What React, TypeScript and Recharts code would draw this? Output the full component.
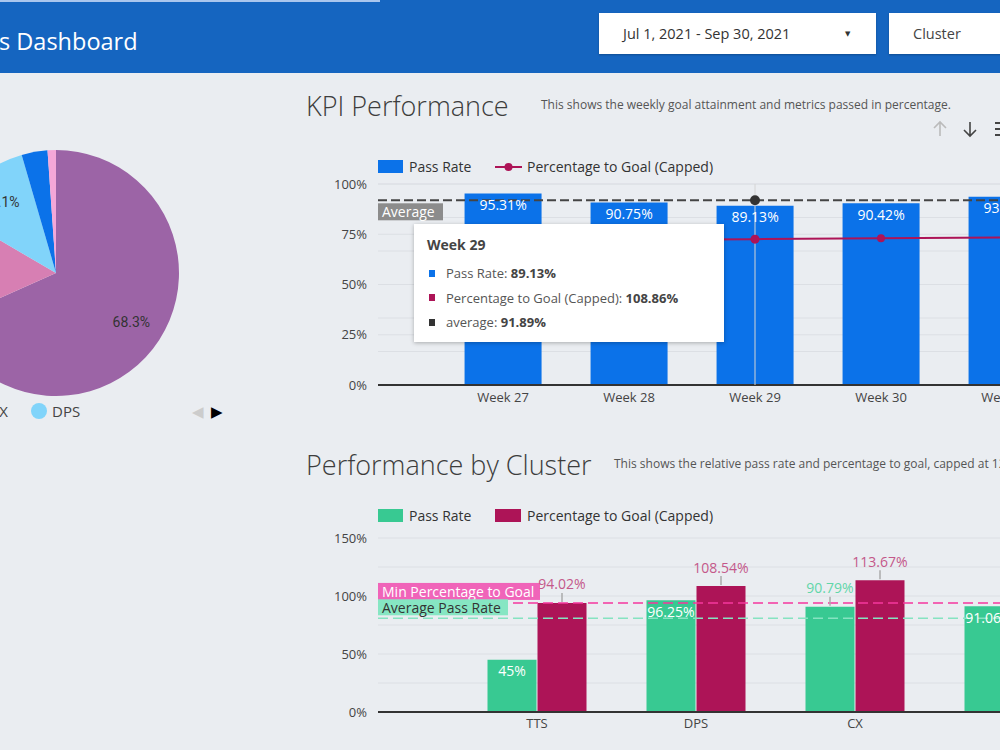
import React from "react";
import {
  ComposedChart,
  BarChart,
  Bar,
  Line,
  XAxis,
  YAxis,
  CartesianGrid,
  Tooltip,
  ReferenceLine,
  LabelList,
  PieChart,
  Pie,
  Cell,
} from "recharts";

const FONT = '"Open Sans", "DejaVu Sans", sans-serif';
const BLUE = "#0b72e9";
const CRIMSON = "#ad1457";
const GREEN = "#38c992";

// pie (share of volume per cluster)
const pieNames = ["TTS", "CX", "DPS", "CS", "QA"];
const pieShares = [68.3, 15.1, 12.1, 3.4, 1.1];
const pieColors = ["#9c64a6", "#d77fb3", "#81d4fa", BLUE, "#f4a7d8"];

// KPI Performance
const weeks = ["Week 27", "Week 28", "Week 29", "Week 30", "Week 31"];
const weeklyPassRate = [95.31, 90.75, 89.13, 90.42, 93.68];
const weeklyGoalPct = [108.2, 108.4, 108.86, 109.5, 110.2];
const weeklyAverage = 91.89;
const kpiLeftTicks = [0, 25, 50, 75, 100];
const kpiRightTicks = [0, 25, 50, 75, 100, 125, 150];

// Performance by Cluster
const clusters = ["TTS", "DPS", "CX", "CSM"];
const clusterPassRate = [45, 96.25, 90.79, 91.06];
const clusterGoalPct = [94.02, 108.54, 113.67, 104.5];
const clusterTicks = [0, 50, 100, 150];
const clusterGridValues = [0, 25, 50, 75, 100, 125, 150];
const passLabelOutside = ["CX"];

const pieData = pieNames.map((name, i) => ({ name, value: pieShares[i] }));
const kpiData = weeks.map((week, i) => ({
  week,
  pass: weeklyPassRate[i],
  goal: weeklyGoalPct[i],
  average: weeklyAverage,
}));
const clusterData = clusters.map((cluster, i) => ({
  cluster,
  pass: clusterPassRate[i],
  goal: clusterGoalPct[i],
}));
const avgPassRate = clusterPassRate.reduce((a, b) => a + b, 0) / clusterPassRate.length;
const minGoalPct = Math.min(...clusterGoalPct);

const RAD = Math.PI / 180;
const renderPieLabel = (p: any) => {
  if (p.value < 10) return null;
  const r = p.outerRadius * 0.73;
  const x = p.cx + r * Math.cos(-p.midAngle * RAD);
  const y = p.cy + r * Math.sin(-p.midAngle * RAD);
  return (
    <text x={x} y={y} textAnchor="middle" dominantBaseline="central" fill="#333" fontSize={14} fontFamily="Roboto, sans-serif">
      {p.value}%
    </text>
  );
};

const whiteTopLabel = (p: any) => (
  <text x={p.x + p.width / 2} y={p.y + 11} textAnchor="middle" dominantBaseline="central" fill="#fff" fontSize={14}>
    {p.value}%
  </text>
);

const outsideLabel = (color: string) => (p: any) => (
  <g>
    <line x1={p.x + p.width / 2} x2={p.x + p.width / 2} y1={p.y - 1} y2={p.y - 10} stroke="#aaa" strokeWidth={1.5} />
    <text x={p.x + p.width / 2} y={p.y - 19} textAnchor="middle" dominantBaseline="central" fill={color} fontSize={14}>
      {p.value}%
    </text>
  </g>
);

const passLabel = (p: any) => {
  if (passLabelOutside.includes(clusters[p.index])) return outsideLabel("#62d6a9")(p);
  return whiteTopLabel(p);
};

const BoxLabel = ({ viewBox, text, bg, color, w, dy, h }: any) => (
  <g>
    <rect x={viewBox.x} y={viewBox.y + dy} width={w} height={h} fill={bg} />
    <text x={viewBox.x + 4} y={viewBox.y + dy + h / 2} dominantBaseline="central" fill={color} fontSize={14}>
      {text}
    </text>
  </g>
);

const tooltipColors: Record<string, string> = { pass: BLUE, goal: CRIMSON, average: "#333" };

const KpiTooltip = ({ active, payload, label }: any) => {
  if (!active || !payload || !payload.length) return null;
  return (
    <div
      style={{
        width: 310,
        height: 118,
        boxSizing: "border-box",
        background: "#fff",
        boxShadow: "0 1px 4px rgba(0,0,0,0.28)",
        padding: "12px 13px",
        fontFamily: FONT,
        fontSize: 13,
        color: "#555",
      }}
    >
      <div style={{ fontWeight: 700, fontSize: 14, color: "#444", lineHeight: "18px", marginBottom: 7 }}>{label}</div>
      {payload.map((entry: any) => (
        <div key={entry.dataKey} style={{ display: "flex", alignItems: "center", height: 24.5 }}>
          <span style={{ width: 6, height: 7, background: tooltipColors[entry.dataKey], marginLeft: 2, marginRight: 11 }} />
          <span>
            {entry.name}: <b style={{ color: "#444" }}>{entry.value}%</b>
          </span>
        </div>
      ))}
    </div>
  );
};

const abs = (left: number, top: number, extra: React.CSSProperties = {}): React.CSSProperties => ({
  position: "absolute",
  left,
  top,
  ...extra,
});

function LegendRow({ top, first, second, lineIcon }: any) {
  return (
    <>
      <div style={abs(378, top - 6.5, { width: 25, height: 13, background: first })} />
      <div style={abs(409, top - 10, { fontSize: 14, lineHeight: "20px", color: "#333" })}>Pass Rate</div>
      {lineIcon ? (
        <svg style={abs(495, top - 6)} width={27} height={12}>
          <line x1={0} x2={27} y1={6} y2={6} stroke={second} strokeWidth={2} />
          <circle cx={13.5} cy={6} r={4} fill={second} />
        </svg>
      ) : (
        <div style={abs(495, top - 6.5, { width: 26, height: 13, background: second })} />
      )}
      <div style={abs(527, top - 10, { fontSize: 14, lineHeight: "20px", color: "#333" })}>Percentage to Goal (Capped)</div>
    </>
  );
}

export default function App() {
  return (
    <div
      style={{
        position: "absolute",
        left: 0,
        top: 0,
        width: 1000,
        height: 750,
        overflow: "hidden",
        background: "#eaedf1",
        fontFamily: FONT,
        whiteSpace: "nowrap",
      }}
    >
      {/* header */}
      <div style={abs(0, 0, { width: 1000, height: 73, background: "#1565c0" })} />
      <div style={abs(0, 0, { width: 380, height: 2, background: "#a9c6ee" })} />
      <div style={abs(-1, 25, { fontSize: 23.5, fontWeight: 500, color: "#fff", lineHeight: "32px" })}>s Dashboard</div>
      <div style={abs(599, 13, { width: 277, height: 41, background: "#fff", boxShadow: "0 1px 2px rgba(0,0,0,0.25)" })}>
        <span style={abs(24, 10, { fontSize: 14.5, color: "#333", lineHeight: "21px" })}>Jul 1, 2021 - Sep 30, 2021</span>
        <span style={abs(246, 12, { fontSize: 7, color: "#333", lineHeight: "18px" })}>▼</span>
      </div>
      <div style={abs(889, 13, { width: 130, height: 41, background: "#fff", boxShadow: "0 1px 2px rgba(0,0,0,0.25)" })}>
        <span style={abs(24, 10, { fontSize: 14.5, color: "#444", lineHeight: "21px" })}>Cluster</span>
      </div>

      {/* pie */}
      <div style={abs(-94, 123)}>
        <PieChart width={300} height={300} margin={{ top: 0, right: 0, bottom: 0, left: 0 }}>
          <Pie
            data={pieData}
            dataKey="value"
            nameKey="name"
            cx={150}
            cy={150}
            outerRadius={123}
            startAngle={90}
            endAngle={-270}
            stroke="none"
            labelLine={false}
            label={renderPieLabel}
            isAnimationActive={false}
          >
            {pieData.map((d, i) => (
              <Cell key={d.name} fill={pieColors[i]} />
            ))}
          </Pie>
        </PieChart>
      </div>
      <div style={abs(-200, 401, { width: 208, display: "flex", justifyContent: "flex-end", alignItems: "center", height: 20, fontSize: 15, color: "#444" })}>
        <span style={{ width: 15, height: 15, borderRadius: 8, background: pieColors[0], marginRight: 5 }} />
        <span style={{ marginRight: 20 }}>{pieNames[0]}</span>
        <span style={{ width: 15, height: 15, borderRadius: 8, background: pieColors[1], marginRight: 5 }} />
        <span>{pieNames[1]}</span>
      </div>
      <div style={abs(31, 401, { display: "flex", alignItems: "center", height: 20, fontSize: 15, color: "#444" })}>
        <span style={{ width: 16, height: 16, borderRadius: 8, background: pieColors[2], marginRight: 5 }} />
        <span>{pieNames[2]}</span>
      </div>
      <div style={abs(192, 400, { fontSize: 15, lineHeight: "22px", color: "#ccc" })}>◀</div>
      <div style={abs(211, 400, { fontSize: 15, lineHeight: "22px", color: "#000" })}>▶</div>

      {/* KPI Performance */}
      <div style={abs(306, 87, { fontSize: 27, fontWeight: 300, color: "#3d3d3d", lineHeight: "38px" })}>KPI Performance</div>
      <div style={abs(541, 96, { fontSize: 12, color: "#555", lineHeight: "18px" })}>
        This shows the weekly goal attainment and metrics passed in percentage.
      </div>
      <svg style={abs(925, 115)} width={75} height={28}>
        <path d="M15 21 V7 M9 13 L15 7 L21 13" stroke="#bbb" strokeWidth={1.6} fill="none" />
        <path d="M45 7 V21 M39 15 L45 21 L51 15" stroke="#444" strokeWidth={1.6} fill="none" />
        <path d="M70 8 H80 M70 14 H80 M70 20 H80" stroke="#444" strokeWidth={1.8} fill="none" />
      </svg>
      <LegendRow top={166.5} first={BLUE} second={CRIMSON} lineIcon />

      <div style={abs(300, 140)}>
        <ComposedChart width={832} height={280} data={kpiData} margin={{ top: 44, right: 0, bottom: 5, left: 28 }} barCategoryGap="19.5%">
          <CartesianGrid yAxisId="left" vertical={false} stroke="#dcdfe4" horizontalValues={kpiLeftTicks} />
          <CartesianGrid yAxisId="right" vertical={false} stroke="#dcdfe4" horizontalValues={kpiRightTicks} />
          <XAxis
            dataKey="week"
            padding={{ left: 62, right: 62 }}
            axisLine={{ stroke: "#333", strokeWidth: 2 }}
            tickLine={false}
            tickSize={0}
            tickMargin={8}
            height={30}
            tick={{ fill: "#444", fontSize: 13 }}
          />
          <YAxis
            yAxisId="left"
            domain={[0, 100]}
            ticks={kpiLeftTicks}
            width={50}
            axisLine={false}
            tickLine={false}
            tickSize={0}
            tickMargin={11}
            tickFormatter={(v: number) => `${v}%`}
            tick={{ fill: "#444", fontSize: 13 }}
          />
          <YAxis yAxisId="right" orientation="right" domain={[0, 150]} ticks={kpiRightTicks} hide />
          <Tooltip
            active
            defaultIndex={2}
            position={{ x: 114, y: 84 }}
            cursor={{ stroke: "#d4d4d4", strokeWidth: 1 }}
            content={<KpiTooltip />}
            isAnimationActive={false}
            wrapperStyle={{ outline: "none", zIndex: 5 }}
          />
          <Bar yAxisId="left" dataKey="pass" name="Pass Rate" fill={BLUE} activeBar={false} isAnimationActive={false}>
            <LabelList dataKey="pass" content={whiteTopLabel} />
          </Bar>
          <Line
            yAxisId="right"
            dataKey="goal"
            name="Percentage to Goal (Capped)"
            stroke={CRIMSON}
            strokeWidth={2}
            dot={{ r: 4, fill: CRIMSON, stroke: "none" }}
            activeDot={{ r: 4.5, fill: CRIMSON, stroke: "none" }}
            isAnimationActive={false}
          />
          <Line
            yAxisId="left"
            dataKey="average"
            name="average"
            stroke="none"
            dot={false}
            activeDot={{ r: 5, fill: "#333", stroke: "none" }}
            isAnimationActive={false}
          />
          <ReferenceLine
            yAxisId="left"
            y={weeklyAverage}
            stroke="#444"
            strokeWidth={2}
            strokeDasharray="9 4"
            label={<BoxLabel text="Average" bg="#8c8c8c" color="#fff" w={65} h={17} dy={3} />}
          />
        </ComposedChart>
      </div>

      {/* Performance by Cluster */}
      <div style={abs(306, 446, { fontSize: 27, fontWeight: 300, color: "#3d3d3d", lineHeight: "38px" })}>Performance by Cluster</div>
      <div style={abs(614, 455, { fontSize: 12, color: "#555", lineHeight: "18px" })}>
        This shows the relative pass rate and percentage to goal, capped at 120%.
      </div>
      <LegendRow top={515.5} first={GREEN} second={CRIMSON} />

      <div style={abs(300, 494)}>
        <BarChart width={873} height={253} data={clusterData} margin={{ top: 44, right: 0, bottom: 5, left: 28 }} barCategoryGap={30} barGap={1}>
          <CartesianGrid vertical={false} stroke="#dcdfe4" horizontalValues={clusterGridValues} />
          <XAxis
            dataKey="cluster"
            padding={{ left: 79.5, right: 79.5 }}
            axisLine={{ stroke: "#333", strokeWidth: 2 }}
            tickLine={false}
            tickSize={0}
            tickMargin={7}
            height={30}
            tick={{ fill: "#444", fontSize: 13 }}
          />
          <YAxis
            domain={[0, 150]}
            ticks={clusterTicks}
            width={50}
            axisLine={false}
            tickLine={false}
            tickSize={0}
            tickMargin={11}
            tickFormatter={(v: number) => `${v}%`}
            tick={{ fill: "#444", fontSize: 13 }}
          />
          <ReferenceLine
            y={minGoalPct}
            stroke="#f5379f"
            strokeWidth={1.5}
            strokeDasharray="10 5"
            label={<BoxLabel text="Min Percentage to Goal" bg="#f064b9" color="#fff" w={162} h={17} dy={-20} />}
          />
          <Bar dataKey="pass" name="Pass Rate" fill={GREEN} isAnimationActive={false}>
            <LabelList dataKey="pass" content={passLabel} />
          </Bar>
          <Bar dataKey="goal" name="Percentage to Goal (Capped)" fill={CRIMSON} isAnimationActive={false}>
            <LabelList dataKey="goal" content={outsideLabel("#c4588a")} />
          </Bar>
          <ReferenceLine
            y={avgPassRate}
            stroke="#86e3c1"
            strokeWidth={1.5}
            strokeDasharray="10 5"
            label={<BoxLabel text="Average Pass Rate" bg="#86e6c3" color="#333" w={130} h={16} dy={-19} />}
          />
        </BarChart>
      </div>
    </div>
  );
}
